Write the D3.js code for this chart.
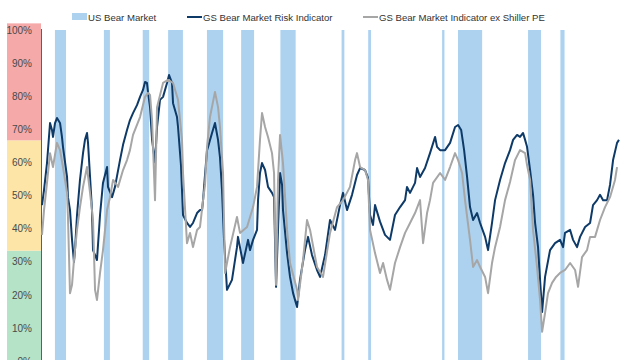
<!DOCTYPE html>
<html><head><meta charset="utf-8">
<script src="https://cdn.jsdelivr.net/npm/d3@7"></script>
<style>body{margin:0;background:#fff}svg{display:block;font-family:"Liberation Sans",Arial,sans-serif}</style>
</head><body><svg id="c" width="640" height="360"></svg>
<script>
// Bear market periods (decimal years)
const bearStarts = [1956.6,1961.9,1966.1,1968.85,1973.05,1976.75,1981.0,1987.62,1990.5,1998.5,2000.22,2007.8,2011.3];
const bearEnds   = [1957.8,1962.55,1966.8,1970.45,1974.8,1978.15,1982.65,1987.92,1990.8,1998.75,2002.83,2009.2,2011.75];

// GS Bear Market Risk Indicator
const riskYears = [1955.20,1955.42,1955.74,1956.07,1956.28,1956.39,1956.61,1956.82,1957.15,1957.36,1957.47,1957.91,1958.01,1958.23,1958.45,1958.66,1958.77,1958.99,1959.31,1959.64,1959.85,1960.07,1960.18,1960.40,1960.61,1960.72,1960.94,1961.15,1961.48,1961.80,1962.24,1962.34,1962.78,1963.10,1963.64,1963.97,1964.40,1964.72,1965.05,1965.48,1965.81,1966.13,1966.35,1966.56,1966.67,1966.89,1967.11,1967.43,1967.65,1967.97,1968.30,1968.73,1968.95,1969.27,1969.38,1969.81,1969.92,1970.24,1970.46,1970.89,1971.22,1971.54,1971.98,1972.30,1972.52,1972.63,1972.84,1973.06,1973.17,1973.60,1973.92,1974.25,1974.46,1974.68,1974.90,1975.22,1975.76,1976.30,1976.41,1976.95,1977.50,1977.71,1978.04,1978.47,1978.58,1978.79,1979.01,1979.34,1979.66,1980.09,1980.31,1980.53,1980.74,1980.96,1981.18,1981.28,1981.72,1982.04,1982.37,1982.80,1983.12,1983.66,1983.99,1984.42,1984.96,1985.29,1985.83,1986.37,1986.91,1987.45,1987.78,1988.21,1988.75,1989.29,1989.62,1990.16,1990.48,1990.70,1991.02,1991.24,1991.78,1992.32,1992.86,1993.40,1993.95,1994.49,1994.70,1995.03,1995.57,1995.79,1996.11,1996.65,1997.19,1997.74,1997.95,1998.28,1998.82,1999.36,1999.90,2000.23,2000.56,2000.88,2001.20,2001.52,2001.85,2002.28,2002.61,2003.15,2003.47,2003.90,2004.23,2004.77,2005.31,2005.85,2006.18,2006.61,2006.93,2007.26,2007.48,2007.69,2008.02,2008.34,2008.56,2008.88,2009.10,2009.32,2009.64,2010.18,2010.72,2011.26,2011.59,2011.80,2012.35,2012.67,2013.10,2013.43,2013.97,2014.51,2014.83,2015.27,2015.59,2015.92,2016.35,2016.67,2017.00,2017.43,2017.64];
const riskValues = [47.1,51.7,59.8,71.9,69.8,67.7,71.9,73.4,71.9,67.7,64.7,55.6,49.5,45.6,36.6,29.9,33.5,44.1,54.7,62.8,66.8,68.9,65.9,55.6,45.6,33.5,32.0,30.5,44.1,53.8,58.6,52.6,49.5,52.6,60.7,65.3,69.8,72.8,74.9,77.3,79.8,81.9,84.3,84.0,81.3,76.7,66.8,60.0,70.7,78.9,79.8,84.0,86.4,84.0,77.9,73.7,70.7,59.2,44.1,41.7,40.5,41.7,44.7,45.6,45.6,48.6,56.2,63.7,64.7,68.9,71.9,66.8,61.6,51.7,36.6,21.5,24.5,34.4,37.5,29.6,36.6,33.5,36.6,39.6,48.6,56.8,59.8,57.7,52.6,50.8,49.5,22.4,39.6,56.8,53.2,45.6,32.6,25.4,20.5,16.3,24.5,33.5,37.5,32.0,27.5,25.4,32.0,42.6,39.6,47.1,50.8,45.6,50.2,56.2,58.3,57.7,55.3,44.1,41.1,47.1,42.1,38.1,36.6,44.1,46.5,48.6,52.6,50.8,53.8,58.3,55.6,58.3,62.8,67.7,64.7,63.7,63.7,65.9,70.7,71.3,69.8,63.7,55.6,46.5,42.6,44.7,41.7,37.5,33.5,41.7,48.6,54.7,59.8,63.7,66.8,68.3,67.7,68.9,66.8,64.7,57.7,50.2,41.7,34.4,24.5,14.8,25.4,33.5,35.6,36.6,34.4,38.7,39.6,36.6,34.4,37.5,40.5,41.7,47.1,48.6,50.2,48.6,48.6,53.2,60.7,65.9,66.8];

// GS Bear Market Indicator ex Shiller PE
const exYears = [1955.20,1955.42,1955.74,1956.07,1956.39,1956.82,1957.15,1957.47,1957.91,1958.01,1958.23,1958.45,1958.66,1958.99,1959.31,1959.64,1960.07,1960.40,1960.72,1960.94,1961.15,1961.48,1961.80,1962.24,1962.56,1962.89,1963.43,1963.97,1964.40,1964.72,1965.05,1965.81,1966.35,1966.67,1966.89,1967.11,1967.43,1967.65,1968.30,1968.84,1969.38,1969.92,1970.35,1970.46,1970.89,1971.22,1971.54,1971.98,1972.30,1972.63,1972.84,1973.06,1973.38,1973.92,1974.25,1974.46,1974.79,1975.01,1975.55,1976.30,1976.63,1977.39,1978.04,1978.47,1978.79,1979.01,1979.34,1979.66,1980.09,1980.31,1980.53,1980.74,1980.96,1981.28,1981.72,1982.04,1982.80,1982.91,1983.45,1983.88,1984.21,1984.96,1985.61,1986.37,1987.13,1987.78,1988.53,1989.08,1989.29,1989.62,1990.16,1990.48,1990.70,1991.24,1991.78,1992.11,1992.54,1992.86,1993.40,1993.95,1994.49,1995.03,1995.57,1996.11,1996.44,1996.87,1997.19,1997.52,1998.28,1998.82,1999.36,1999.90,2000.23,2000.66,2000.98,2001.52,2001.85,2002.28,2002.61,2003.15,2003.47,2003.90,2004.23,2004.77,2005.31,2005.85,2006.39,2006.93,2007.48,2007.69,2008.02,2008.34,2008.77,2009.10,2009.32,2009.64,2009.96,2010.40,2010.83,2011.26,2011.80,2012.35,2012.89,2013.21,2013.64,2014.18,2014.51,2015.05,2015.59,2016.13,2016.67,2017.21,2017.43];
const exValues = [38.1,45.6,53.8,62.8,58.6,65.9,63.7,58.6,50.8,43.5,20.5,23.0,30.5,39.6,46.5,52.6,58.6,50.8,42.6,21.5,18.4,26.6,33.5,45.6,49.5,54.7,52.6,57.7,60.7,63.7,68.3,73.7,79.8,81.0,80.4,72.8,48.6,76.7,84.0,84.9,84.0,78.9,66.8,56.8,35.6,38.7,34.4,39.6,40.5,48.6,53.2,64.7,73.7,81.3,76.7,70.7,56.8,26.6,34.4,43.5,38.7,40.5,46.5,52.6,66.8,74.9,70.7,67.7,62.8,56.8,23.0,54.7,68.3,59.8,39.6,29.6,21.5,18.4,30.5,42.6,39.6,28.4,25.4,38.7,46.5,48.6,52.6,60.7,62.8,58.6,57.7,54.7,39.6,32.6,26.6,29.6,24.5,21.5,29.6,34.4,38.7,41.7,44.7,48.6,35.6,44.7,48.6,53.8,56.8,54.7,58.6,62.8,60.7,56.8,48.6,36.6,28.4,30.5,28.4,25.4,20.5,29.6,34.4,40.5,48.6,54.1,60.7,63.7,62.8,59.2,54.7,39.6,28.4,18.4,8.8,14.5,20.5,23.6,25.4,26.6,27.5,29.6,27.5,22.4,31.4,33.5,37.5,37.5,42.6,46.5,49.5,54.7,58.6];

// Y tick labels
const yTicks = [0,10,20,30,40,50,60,70,80,90,100];
// Zone bands on the axis (low, high, colour)
const zoneLows  = [0, 33.33, 66.67];
const zoneHighs = [33.33, 66.67, 102];
const zoneColors = ["#b5e3c8", "#fde4a7", "#f6a9a9"];

const legendLabels = ["US Bear Market", "GS Bear Market Risk Indicator", "GS Bear Market Indicator ex Shiller PE"];
const navy = "#0e3a68", gray = "#a6a6a6", bearBlue = "#acd2f0";

const svg = d3.select("#c");
const x = d3.scaleLinear().domain([1955.2, 2017.75]).range([42, 620]);
const y = d3.scaleLinear().domain([0, 100]).range([361, 30]);

// zone bands
svg.append("g").selectAll("rect").data(zoneLows).join("rect")
  .attr("x", 7).attr("width", 34)
  .attr("y", (d,i) => y(zoneHighs[i]))
  .attr("height", (d,i) => y(zoneLows[i]) - y(zoneHighs[i]))
  .attr("fill", (d,i) => zoneColors[i]);

// bear market bands
svg.append("g").selectAll("rect").data(bearStarts).join("rect")
  .attr("x", d => x(d))
  .attr("width", (d,i) => Math.max(1.5, x(bearEnds[i]) - x(d)))
  .attr("y", y(100)).attr("height", y(0) - y(100))
  .attr("fill", bearBlue);

// y axis
const yAxis = d3.axisLeft(y).tickValues(yTicks).tickFormat(d => d + "%").tickSize(0).tickPadding(9);
const ga = svg.append("g").attr("transform", "translate(41,0)").call(yAxis);
ga.select(".domain").attr("stroke", "#6b5b55").attr("stroke-width", 1).attr("d", `M0.5,${y(100)-1}V360`);
ga.selectAll("text").attr("fill", "#4a4a4a").attr("font-size", 10).attr("font-family", "Liberation Sans, Arial, sans-serif");

const line = d3.line().x(d => x(d[0])).y(d => y(d[1]));
const riskData = riskYears.map((t,i) => [t, riskValues[i]]);
const exData = exYears.map((t,i) => [t, exValues[i]]);

svg.append("path").datum(riskData).attr("d", line).attr("fill","none").attr("stroke", navy).attr("stroke-width", 2).attr("stroke-linejoin","round");
svg.append("path").datum(exData).attr("d", line).attr("fill","none").attr("stroke", gray).attr("stroke-width", 2).attr("stroke-linejoin","round");

// legend
const lg = svg.append("g").attr("font-size", 9.6).attr("fill", "#333");
lg.append("rect").attr("x", 72).attr("y", 13).attr("width", 15).attr("height", 7).attr("fill", bearBlue);
lg.append("text").attr("x", 88).attr("y", 21).text(legendLabels[0]);
lg.append("line").attr("x1", 187).attr("x2", 202).attr("y1", 17).attr("y2", 17).attr("stroke", navy).attr("stroke-width", 2);
lg.append("text").attr("x", 203).attr("y", 21).text(legendLabels[1]);
lg.append("line").attr("x1", 363).attr("x2", 378).attr("y1", 17).attr("y2", 17).attr("stroke", gray).attr("stroke-width", 2);
lg.append("text").attr("x", 379).attr("y", 21).text(legendLabels[2]);
</script></body></html>
